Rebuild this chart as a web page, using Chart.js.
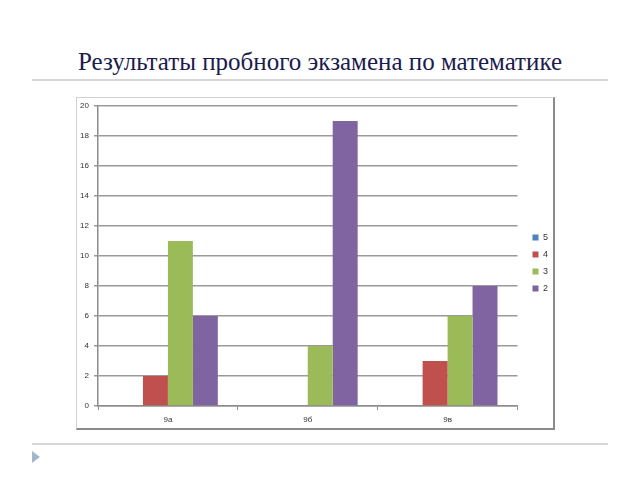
<!DOCTYPE html>
<html>
<head>
<meta charset="utf-8">
<script src="https://cdn.jsdelivr.net/npm/chart.js@4"></script>
<style>
  body { margin: 0; background: #fff; }
  #page { position: relative; width: 640px; height: 480px; overflow: hidden; }
  #title { position: absolute; left: 0; width: 640px; top: 48px; text-align: center;
    font-family: "Liberation Serif", "DejaVu Serif", serif; font-size: 25px; color: #1b1b4d; }
  .rule { position: absolute; left: 32px; width: 576px; height: 2px; background: #d6d6d6; }
  #box { position: absolute; left: 76px; top: 97px; width: 476px; height: 330px;
    border-top: 1px solid #d0d0d0; border-left: 1px solid #d0d0d0;
    border-right: 2px solid #8a8a8a; border-bottom: 2px solid #8a8a8a; background: #fff; }
  #arrow { position: absolute; left: 32px; top: 451px; width: 0; height: 0;
    border-top: 6px solid transparent; border-bottom: 6px solid transparent; border-left: 8px solid #a3b7cc; }
  #wrap { position: absolute; left: 0; top: 0; width: 640px; height: 480px; }
</style>
</head>
<body>
<div id="page">
  <div id="title">Результаты пробного экзамена по математике</div>
  <div class="rule" style="top:79px"></div>
  <div id="box"></div>
  <div class="rule" style="top:443px"></div>
  <div id="arrow"></div>
  <div id="wrap"><canvas id="chart"></canvas></div>
</div>
<script>
// classes and marks
const classes = ['9а', '9б', '9в'];
const grades = ['5', '4', '3', '2'];
const grade5 = [0, 0, 0];
const grade4 = [2, 0, 3];
const grade3 = [11, 4, 6];
const grade2 = [6, 19, 8];
const colors = ['#4f81bd', '#c0504d', '#9bbb59', '#8064a2'];

const series = [grade5, grade4, grade3, grade2];

const tickFont = { family: 'Liberation Sans, DejaVu Sans, sans-serif', size: 8 };

// nudge the legend a little right and up, like in the original slide
const legendShift = {
  id: 'legendShift',
  afterLayout(chart) {
    const lg = chart.legend;
    lg.left += 7; lg.right += 7;
    lg.top -= 5; lg.bottom -= 5;
  }
};

new Chart(document.getElementById('chart'), {
  type: 'bar',
  data: {
    labels: classes,
    datasets: series.map((values, i) => ({
      label: grades[i],
      data: values,
      backgroundColor: colors[i],
      borderWidth: 0,
      categoryPercentage: 0.714,
      barPercentage: 1
    }))
  },
  options: {
    responsive: true,
    maintainAspectRatio: false,
    animation: false,
    layout: { padding: { left: 76, top: 106, bottom: 50, right: 89 } },
    plugins: {
      title: { display: false },
      tooltip: { enabled: false },
      legend: {
        position: 'right',
        labels: {
          boxWidth: 6,
          boxHeight: 6,
          padding: 8,
          color: '#333',
          font: { family: 'Liberation Sans, DejaVu Sans, sans-serif', size: 9 }
        }
      }
    },
    scales: {
      x: {
        afterFit: s => { s.height = 24; },
        grid: { display: true, drawOnChartArea: false, drawTicks: true, tickLength: 4, color: '#8c8c8c' },
        border: { color: '#8c8c8c', width: 1.5 },
        ticks: { color: '#333', font: tickFont, padding: 5 }
      },
      y: {
        min: 0,
        max: 20,
        afterFit: s => { s.width = 22; },
        grid: { color: '#9a9a9a', lineWidth: 1.5, tickLength: 4 },
        border: { color: '#8c8c8c', width: 1.5 },
        ticks: { stepSize: 2, color: '#333', font: tickFont, padding: 5 }
      }
    }
  },
  plugins: [legendShift]
});
</script>
</body>
</html>
